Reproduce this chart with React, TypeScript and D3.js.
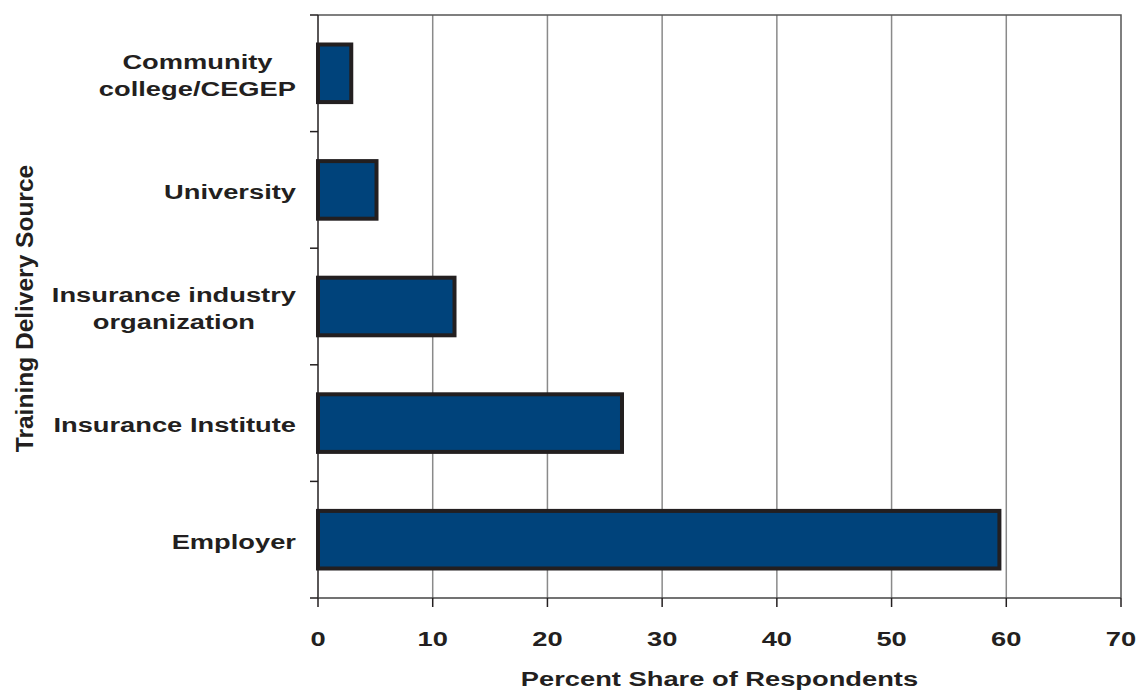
import React, { useEffect, useRef } from "react";
import * as d3 from "d3";

// Training delivery sources, top to bottom
const categories = [
  "Community college/CEGEP",
  "University",
  "Insurance industry organization",
  "Insurance Institute",
  "Employer",
];
const labelLines = [
  ["Community", "college/CEGEP"],
  ["University"],
  ["Insurance industry", "organization"],
  ["Insurance Institute"],
  ["Employer"],
];
// Percent share of respondents
const values = [2.9, 5.1, 11.9, 26.5, 59.4];
const xTicks = [0, 10, 20, 30, 40, 50, 60, 70];

const W = 1138;
const H = 691;
const FONT = "'Liberation Sans', Arial, Helvetica, sans-serif";
const INK = "#231f20";
const STRETCH = 1.3;

export default function App() {
  const ref = useRef<SVGSVGElement | null>(null);

  useEffect(() => {
    const svg = d3.select(ref.current);
    svg.selectAll("*").remove();

    const left = 318, right = 1121, top = 15, bottom = 598;
    const x = d3.scaleLinear().domain([0, 70]).range([left, right]);
    const y = d3
      .scaleBand<string>()
      .domain(categories)
      .range([top, bottom])
      .paddingInner(0.506)
      .paddingOuter(0.253);

    // grid lines
    svg
      .append("g")
      .selectAll("line")
      .data(xTicks.slice(1, -1))
      .join("line")
      .attr("x1", (d) => x(d))
      .attr("x2", (d) => x(d))
      .attr("y1", top)
      .attr("y2", bottom)
      .attr("stroke", "#8a8a8a")
      .attr("stroke-width", 1.5);

    // frame: top and right borders
    svg
      .append("path")
      .attr("d", `M${left},${top}H${right}V${bottom}`)
      .attr("fill", "none")
      .attr("stroke", "#555")
      .attr("stroke-width", 1.5);

    // bars
    svg
      .append("g")
      .selectAll("rect")
      .data(values)
      .join("rect")
      .attr("x", x(0))
      .attr("y", (_, i) => y(categories[i])!)
      .attr("width", (d) => x(d) - x(0))
      .attr("height", y.bandwidth())
      .attr("fill", "#00437b")
      .attr("stroke", INK)
      .attr("stroke-width", 4);

    // axes lines
    svg
      .append("line")
      .attr("x1", left)
      .attr("x2", left)
      .attr("y1", top)
      .attr("y2", bottom)
      .attr("stroke", INK)
      .attr("stroke-width", 1.5);
    svg
      .append("line")
      .attr("x1", left)
      .attr("x2", right)
      .attr("y1", bottom)
      .attr("y2", bottom)
      .attr("stroke", "#444")
      .attr("stroke-width", 1.5);

    // y ticks at band boundaries
    const step = y.step();
    const bounds = d3.range(categories.length + 1).map((i) => top + i * step);
    svg
      .append("g")
      .selectAll("line")
      .data(bounds)
      .join("line")
      .attr("x1", left - 8)
      .attr("x2", left)
      .attr("y1", (d) => d)
      .attr("y2", (d) => d)
      .attr("stroke", INK)
      .attr("stroke-width", 1.5);

    // x ticks
    svg
      .append("g")
      .selectAll("line")
      .data(xTicks)
      .join("line")
      .attr("x1", (d) => x(d))
      .attr("x2", (d) => x(d))
      .attr("y1", bottom)
      .attr("y2", bottom + 9)
      .attr("stroke", INK)
      .attr("stroke-width", 1.5);

    const addText = (
      str: string,
      tx: number,
      ty: number,
      anchor: string,
      size = 21
    ) =>
      svg
        .append("text")
        .attr("transform", `translate(${tx},${ty}) scale(${STRETCH},1)`)
        .attr("text-anchor", anchor)
        .attr("font-family", FONT)
        .attr("font-weight", "bold")
        .attr("font-size", size)
        .attr("fill", INK)
        .text(str);

    // x tick labels
    xTicks.forEach((t) => addText(String(t), x(t), 646, "middle"));

    // category labels: block right-aligned, lines centred within block
    const labelRight = 296;
    labelLines.forEach((lines, i) => {
      const c = y(categories[i])! + y.bandwidth() / 2 + 9;
      const lh = 27;
      const y0 = c - ((lines.length - 1) * lh) / 2;
      // measure widest line
      const widths = lines.map((s) => {
        const t = addText(s, 0, 0, "start");
        const w = (t.node() as SVGTextElement).getComputedTextLength() * STRETCH;
        t.remove();
        return w;
      });
      const maxW = Math.max(...widths);
      const cx = labelRight - maxW / 2;
      lines.forEach((s, j) => addText(s, cx, y0 + j * lh, "middle"));
    });

    // x axis title
    addText("Percent Share of Respondents", (left + right) / 2, 686, "middle");

    // y axis title
    svg
      .append("text")
      .attr("transform", `translate(33,${(top + bottom) / 2 + 2}) rotate(-90)`)
      .attr("text-anchor", "middle")
      .attr("font-family", FONT)
      .attr("font-weight", "bold")
      .attr("font-size", 24.5)
      .attr("fill", INK)
      .text("Training Delivery Source");
  }, []);

  return (
    <svg
      ref={ref}
      width={W}
      height={H}
      style={{ position: "absolute", left: 0, top: 0, background: "#fff" }}
    />
  );
}
